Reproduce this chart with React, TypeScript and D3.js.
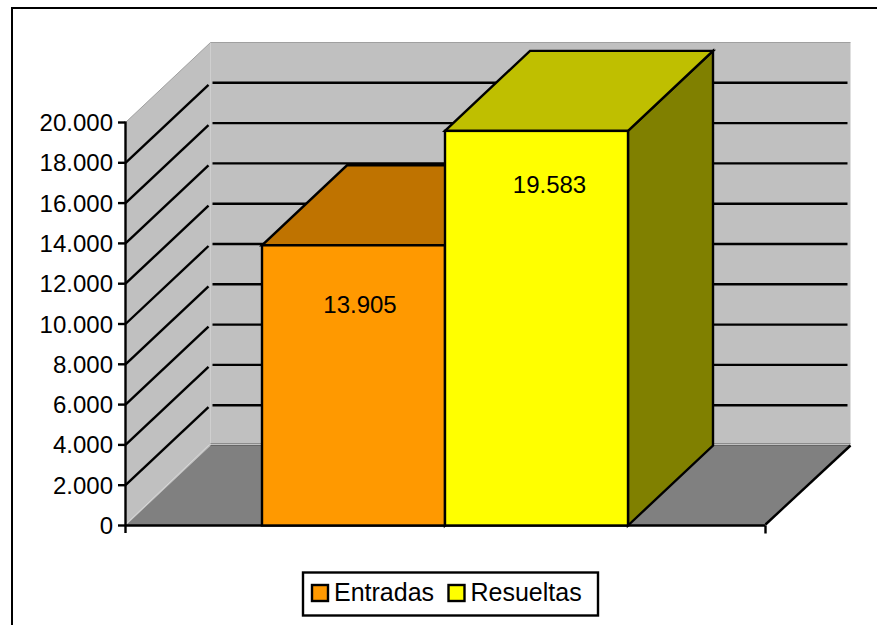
import React from "react";
import * as d3 from "d3";

const seriesNames = ["Entradas", "Resueltas"];
const seriesValues = [13905, 19583];
const valueLabels = ["13.905", "19.583"];
const frontColors = ["#ff9900", "#ffff00"];
const topColors = ["#bf7300", "#bfbf00"];
const sideColors = ["#bf7300", "#808000"];
const tickValues = [0, 2000, 4000, 6000, 8000, 10000, 12000, 14000, 16000, 18000, 20000];

const W = 877, H = 625;
const DX = 85, DY = -80;
const SW = 2.4;
const y = d3.scaleLinear().domain([0, 20000]).range([525.5, 122.5]);
const xAxisRange = [125.5, 765.5];
const x = d3.scaleBand<string>().domain(seriesNames).range([262, 628]);
const labelDx = [6.5, 13];
const labelDy = [68, 62];
const font = "'Liberation Sans', Arial, sans-serif";
const fmt = (v: number) => d3.format(",")(v).replace(/,/g, ".");
const poly = d3.line<[number, number]>();

export default function App() {
  const [x0, x1] = xAxisRange;
  const y0 = y(0), yT = y(20000);
  return (
    <svg width={W} height={H} style={{ position: "absolute", left: 0, top: 0 }} fontFamily={font}>
      <rect width={W} height={H} fill="#fff" />
      <path d="M12 625V8H877" fill="none" stroke="#000" strokeWidth={2} />

      {/* walls */}
      <path d={poly([[x0, y0], [x0 + DX, y0 + DY], [x0 + DX, yT + DY], [x0, yT]])!} fill="#c0c0c0" />
      <path d={poly([[x0 + DX, y0 + DY], [x1 + DX, y0 + DY], [x1 + DX, yT + DY], [x0 + DX, yT + DY]])!} fill="#c0c0c0" />
      <path d={poly([[x0, y0], [x1, y0], [x1 + DX, y0 + DY], [x0 + DX, y0 + DY]])!} fill="#808080" />
      <path d={poly([[x0, yT], [x0 + DX, yT + DY], [x1 + DX, yT + DY]])!} fill="none" stroke="#a0a0a0" strokeWidth={1} />
      <path d={poly([[x0, y0 - 1], [x0 + DX - 1, y0 + DY - 1]])!} fill="none" stroke="#d8d8d8" strokeWidth={1} />
      <path d={poly([[x0 + DX, y0 + DY - 2], [x1 + DX, y0 + DY - 2]])!} fill="none" stroke="#8c8c8c" strokeWidth={1} />
      <path d={poly([[x0 + DX, y0 + DY], [x1 + DX, y0 + DY]])!} fill="none" stroke="#666" strokeWidth={1} />

      {/* gridlines */}
      {tickValues.filter((t) => t > 0 && t < 20000).map((t) => (
        <g key={t} stroke="#000" strokeWidth={SW} fill="none">
          <line x1={x0} y1={y(t)} x2={x0 + DX - 2} y2={y(t) + DY + 2} />
          <line x1={x0 + DX + 2} y1={y(t) + DY} x2={x1 + DX - 3} y2={y(t) + DY} />
        </g>
      ))}

      {/* axes */}
      <line x1={x0} y1={yT - 1} x2={x0} y2={533} stroke="#000" strokeWidth={SW} />
      <line x1={x0} y1={y0} x2={x1} y2={y0} stroke="#000" strokeWidth={SW} />
      <line x1={x1} y1={y0 - 1} x2={x1 + DX} y2={y0 + DY} stroke="#000" strokeWidth={SW} />
      <line x1={x1} y1={y0} x2={x1} y2={533.5} stroke="#000" strokeWidth={SW} />
      {tickValues.map((t) => (
        <g key={t}>
          <line x1={118} x2={x0} y1={y(t)} y2={y(t)} stroke="#000" strokeWidth={SW} />
          <text x={113} y={y(t) + 8.5} textAnchor="end" fontSize={24} fill="#000">
            {t === 0 ? "0" : fmt(t)}
          </text>
        </g>
      ))}

      {/* bars */}
      {seriesNames.map((s, i) => {
        const l = x(s)!, r = l + x.bandwidth(), top = y(seriesValues[i]);
        return (
          <g key={s} stroke="#000" strokeWidth={SW} strokeLinejoin="miter">
            <path d={poly([[r, y0], [r + DX, y0 + DY], [r + DX, top + DY], [r, top]])! + "Z"} fill={sideColors[i]} />
            <path d={poly([[l, top], [r, top], [r + DX, top + DY], [l + DX, top + DY]])! + "Z"} fill={topColors[i]} />
            <rect x={l} y={top} width={x.bandwidth()} height={y0 - top} fill={frontColors[i]} />
          </g>
        );
      })}
      {seriesNames.map((s, i) => (
        <text key={s} x={x(s)! + x.bandwidth() / 2 + labelDx[i]} y={y(seriesValues[i]) + labelDy[i]} textAnchor="middle" fontSize={24} fill="#000">
          {valueLabels[i]}
        </text>
      ))}

      {/* legend */}
      <rect x={303} y={572.5} width={295} height={43} fill="#fff" stroke="#000" strokeWidth={SW} />
      {seriesNames.map((s, i) => {
        const lx = [312, 448.5][i];
        return (
          <g key={s}>
            <rect x={lx} y={585} width={16} height={16} fill={frontColors[i]} stroke="#000" strokeWidth={SW} />
            <text x={lx + 22} y={601} fontSize={25} fill="#000">{s}</text>
          </g>
        );
      })}
    </svg>
  );
}
